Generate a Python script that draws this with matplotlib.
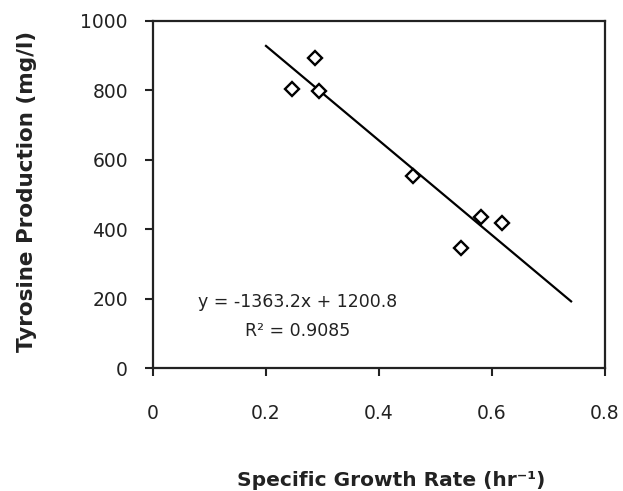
import matplotlib
matplotlib.use("Agg")
import matplotlib.pyplot as plt
import numpy as np

# Data
growth_rate = [0.246, 0.287, 0.294, 0.460, 0.546, 0.580, 0.618]
tyrosine = [804, 893, 797, 554, 345, 434, 418]
slope = -1363.2
intercept = 1200.8
fit_x = [0.2, 0.74]
x_ticks = [0, 0.2, 0.4, 0.6, 0.8]
x_tick_labels = ["0", "0.2", "0.4", "0.6", "0.8"]
y_ticks = [0, 200, 400, 600, 800, 1000]

plt.rcParams['font.family'] = ['DejaVu Sans']

fig = plt.figure(figsize=(6.23, 4.91), dpi=100)
ax = fig.add_axes([153/623, 1-368/491, (605-153)/623, (368-21)/491])

fit_y = [slope * v + intercept for v in fit_x]
ax.plot(fit_x, fit_y, color='black', lw=1.6, zorder=2)
ax.plot(growth_rate, tyrosine, linestyle='none', marker='D', ms=7.5,
        mfc='white', mec='black', mew=1.7, zorder=3)

ax.set_xlim(0, 0.8)
ax.set_ylim(0, 1000)
ax.set_xticks(x_ticks)
ax.set_xticklabels(x_tick_labels)
ax.set_yticks(y_ticks)

for s in ax.spines.values():
    s.set_linewidth(1.6)
    s.set_color('#222222')
ax.tick_params(axis='x', direction='out', length=6, width=1.5, pad=20, labelsize=13.5, colors='#222222')
ax.tick_params(axis='y', direction='out', length=6, width=1.5, pad=12, labelsize=13.5, colors='#222222')

fig.text(391/623, 1-480/491, 'Specific Growth Rate (hr⁻¹)', ha='center', va='center',
         fontsize=14.5, fontweight='bold', color='#222222')
fig.text(27/623, 1-191.5/491, 'Tyrosine Production (mg/l)', ha='center', va='center',
         rotation=90, fontsize=15.5, fontweight='bold', color='#222222')

ax.text(0.2566, 190, 'y = -1363.2x + 1200.8', ha='center', va='center', fontsize=12.5, color='#222222')
ax.text(0.2566, 107, 'R² = 0.9085', ha='center', va='center', fontsize=12.5, color='#222222')

fig.savefig('out.png', dpi=100)
